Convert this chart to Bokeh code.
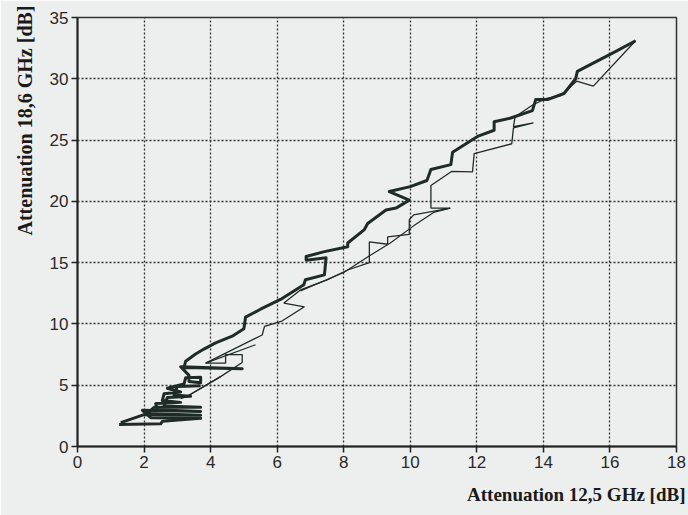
from bokeh.plotting import figure
from bokeh.models import FixedTicker, Title
from bokeh.embed import file_html
from bokeh.resources import INLINE

# Attenuation at 12.5 GHz (x) versus 18.6 GHz (y), in dB
# Rising part of the event (heavy trace)
rise_x = [1.25, 2.5, 2.55, 3.7, 2.2, 1.95, 3.7, 2.4, 2.35, 3.1, 2.55, 2.6, 3.1, 2.7,
          3.2, 3.25, 3.7, 3.7, 3.35, 3.35, 3.1, 4.95, 3.2, 3.25, 3.55, 3.8, 4.15, 4.65,
          5.0, 5.05, 5.5, 6.1, 6.8, 6.85, 7.42, 7.47, 6.87, 6.87, 7.42, 8.12, 8.12,
          8.62, 8.72, 9.27, 9.57, 9.97, 9.37, 10.0, 10.5, 10.62, 11.22, 11.27, 12.02,
          12.52, 12.52, 13.02, 13.67, 13.77, 14.12, 14.62, 14.97, 15.02, 16.22, 16.77]
rise_y = [1.8, 1.85, 2.05, 2.3, 2.35, 2.95, 2.85, 3.0, 3.5, 3.6, 3.75, 4.3, 4.45, 4.75,
          5.1, 5.6, 5.65, 5.2, 5.3, 5.8, 6.5, 6.35, 6.45, 6.95, 7.55, 7.95, 8.45, 9.0,
          9.6, 10.55, 11.2, 12.0, 13.2, 13.6, 14.0, 15.4, 15.2, 15.5, 15.9, 16.3, 16.6,
          17.7, 18.2, 19.3, 19.45, 20.1, 20.8, 21.2, 21.7, 22.6, 23.0, 24.0, 25.3,
          25.8, 26.5, 26.8, 27.4, 28.3, 28.3, 28.8, 30.0, 30.6, 32.3, 33.1]

# Low-level scribble of the heavy trace at the start of the event
start_x = [1.3, 2.0, 3.7, 2.1, 2.3, 3.7, 2.6, 2.7, 3.4, 2.9, 3.0, 3.7]
start_y = [1.95, 2.6, 2.55, 2.7, 3.2, 3.2, 3.3, 4.0, 4.1, 4.2, 4.9, 4.95]

# Decaying part of the event (thin trace)
fall_x = [16.77, 15.5, 15.0, 14.5, 14.1, 13.7, 13.15, 13.1, 13.7, 13.1, 13.05, 11.92,
          11.87, 11.25, 10.62, 10.62, 11.2, 10.1, 9.97, 9.97, 9.32, 9.32, 8.77, 8.77,
          8.12, 7.5, 6.72, 6.2, 6.82, 6.12, 5.62, 5.55, 3.85, 4.45, 4.45, 4.95, 4.95,
          4.3, 3.3, 3.1]
fall_y = [33.1, 29.4, 29.8, 28.6, 28.4, 27.9, 26.9, 26.1, 26.4, 26.0, 24.7, 23.9,
          22.4, 22.45, 21.3, 19.45, 19.45, 18.9, 18.5, 17.3, 17.1, 16.5, 16.7, 15.0,
          14.4, 13.6, 12.8, 11.7, 11.4, 10.2, 9.8, 9.1, 6.8, 6.8, 7.5, 7.5, 6.85,
          5.7, 4.1, 3.9]

# Secondary short traces
tail_xs = [[6.7, 8.0, 8.8, 9.4, 10.1, 10.7, 11.2],
           [3.85, 5.35],
           [3.3, 4.3]]
tail_ys = [[12.7, 14.2, 15.6, 16.6, 18.0, 19.1, 19.45],
           [6.8, 8.3],
           [4.1, 5.7]]

x_ticks = [0, 2, 4, 6, 8, 10, 12, 14, 16, 18]
y_ticks = [0, 5, 10, 15, 20, 25, 30, 35]
x_title = "Attenuation 12,5 GHz [dB]"
y_title = "Attenuation 18,6 GHz [dB]"

paper = "#edefee"
ink = "#1f2b27"

p = figure(width=688, height=515, x_range=(0, 18), y_range=(0, 35),
           output_backend="svg", toolbar_location=None,
           min_border_left=76, min_border_right=12, min_border_top=17,
           min_border_bottom=68)
p.background_fill_color = paper
p.border_fill_color = paper
p.outline_line_color = "#333333"
p.outline_line_width = 1.5

for ax, ticks in ((p.xaxis, x_ticks), (p.yaxis, y_ticks)):
    ax.ticker = FixedTicker(ticks=ticks)
    ax.axis_line_width = 2
    ax.axis_line_color = "#222222"
    ax.major_tick_line_color = "#222222"
    ax.major_tick_line_width = 1.5
    ax.major_tick_in = 0
    ax.major_tick_out = 6
    ax.minor_tick_line_color = None
    ax.major_label_text_font = "Liberation Sans"
    ax.major_label_text_font_size = "17px"
    ax.major_label_text_color = "#2a2a2a"
    ax.major_label_standoff = 3

for g in (p.xgrid, p.ygrid):
    g.grid_line_color = "#333333"
    g.grid_line_width = 1.3
    g.grid_line_dash = "2 2"

p.line(rise_x, rise_y, line_color=ink, line_width=3, line_join="round")
p.line(start_x, start_y, line_color=ink, line_width=3, line_join="round")
p.line(fall_x, fall_y, line_color=ink, line_width=1.3)
p.multi_line(tail_xs, tail_ys, line_color=ink, line_width=1.2)

p.add_layout(Title(text=x_title, align="right",
                   text_font="Liberation Serif", text_font_size="19px",
                   text_font_style="bold", text_color="#1a1a1a", offset=-9,
                   standoff=22), "below")
p.add_layout(Title(text=y_title, align="right",
                   text_font="Liberation Serif", text_font_size="20px",
                   text_font_style="bold", text_color="#1a1a1a", offset=-12,
                   standoff=22), "left")

open("out.html", "w").write(file_html(p, INLINE))
